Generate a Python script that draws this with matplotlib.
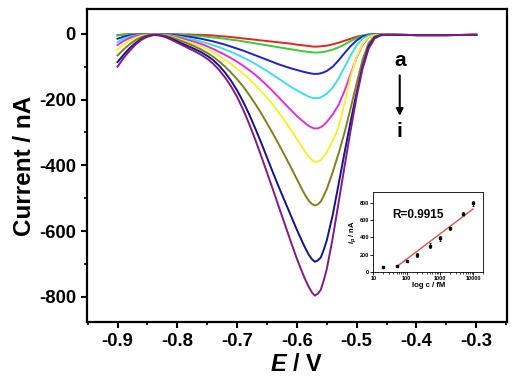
import matplotlib
matplotlib.use("Agg")
import matplotlib.pyplot as plt
from matplotlib.ticker import MultipleLocator, LogLocator, NullFormatter

plt.rcParams['font.family'] = ['Liberation Sans', 'DejaVu Sans']
plt.rcParams['mathtext.fontset'] = 'custom'
plt.rcParams['mathtext.it'] = 'Liberation Sans:bold:italic'
plt.rcParams['mathtext.rm'] = 'Liberation Sans:bold'
plt.rcParams['mathtext.bf'] = 'Liberation Sans:bold'

# ---------------- data ----------------
E = [-0.90, -0.89, -0.88, -0.87, -0.86, -0.85, -0.84, -0.83, -0.82, -0.81,
     -0.80, -0.79, -0.78, -0.77, -0.76, -0.75, -0.74, -0.73, -0.72, -0.71,
     -0.70, -0.69, -0.68, -0.67, -0.66, -0.65, -0.64, -0.63, -0.62, -0.61,
     -0.60, -0.59, -0.585, -0.58, -0.575, -0.57, -0.565, -0.56, -0.555,
     -0.55, -0.54, -0.53, -0.52, -0.51,
     -0.50, -0.49, -0.48, -0.47, -0.46, -0.45, -0.40, -0.35, -0.30]

curve_a = [-4, -2, -1, -1, -1, -1, -1, -1, -1, -1,
           -1, -2, -2, -3, -3, -4, -5, -7, -8, -10,
           -12, -14, -16, -18, -20, -22, -24, -26, -28, -30,
           -33, -35, -36, -37, -38.5, -39, -38.8, -38, -37,
           -36, -32, -27, -21, -15,
           -9, -5, -2, -1, -1, -2, -4, -4, -3]
curve_b = [-5, -3, -2, -1, -1, -1, -1, -1, -1, -2,
           -3, -4, -5, -6, -7, -9, -11, -13, -15, -18,
           -20, -23, -26, -29, -32, -35, -38, -41, -44, -47,
           -50, -53, -54, -55, -56.3, -57, -56.8, -56, -54.8,
           -53, -48, -41, -32, -22,
           -13, -6, -2, -1, -1, -2, -4, -4, -3]
curve_c = [-15, -9, -5, -3, -2, -1, -1, -1, -2, -3,
           -5, -7, -9, -12, -15, -19, -23, -28, -33, -39,
           -45, -51, -58, -65, -72, -79, -86, -93, -99, -105,
           -110, -115, -117.2, -119, -121, -122, -121.6, -120, -117,
           -113, -100, -80, -58, -37,
           -20, -8, -3, -2, -2, -2, -4, -4, -3]
curve_d = [-25, -15, -9, -5, -3, -2, -2, -2, -3, -5,
           -8, -11, -15, -19, -24, -29, -35, -41, -48, -55,
           -63, -72, -81, -91, -102, -113, -125, -137, -149, -161,
           -172, -182, -186.8, -191, -194, -196, -195.4, -193, -188,
           -182, -163, -135, -100, -65,
           -35, -14, -5, -3, -2, -2, -4, -4, -3]
curve_e = [-34, -22, -13, -7, -4, -2, -2, -2, -4, -7,
           -11, -15, -20, -25, -31, -38, -46, -55, -64, -74,
           -85, -97, -110, -124, -140, -157, -175, -194, -213, -232,
           -250, -266, -273.5, -280, -285, -288, -287.2, -284, -277,
           -268, -245, -215, -172, -122,
           -72, -33, -11, -4, -2, -2, -4, -4, -3]
curve_f = [-48, -33, -21, -12, -6, -3, -2, -3, -5, -9,
           -14, -20, -26, -32, -39, -47, -56, -67, -79, -92,
           -106, -121, -137, -155, -174, -194, -216, -240, -265, -292,
           -320, -348, -362, -374, -383.5, -390, -388.5, -384, -373,
           -360, -325, -282, -210, -130,
           -70, -30, -10, -4, -3, -2, -4, -4, -3]
curve_g = [-66, -48, -32, -19, -10, -4, -2, -3, -6, -11,
           -17, -24, -31, -39, -48, -58, -70, -84, -100, -118,
           -138, -160, -185, -212, -241, -272, -304, -337, -371, -406,
           -442, -478, -494, -508, -517, -522, -518.5, -510, -492,
           -472, -420, -362, -298, -225,
           -150, -78, -28, -8, -3, -2, -4, -4, -3]
curve_h = [-86, -64, -44, -28, -15, -7, -3, -4, -8, -15,
           -23, -31, -39, -47, -56, -67, -80, -97, -118, -143,
           -172, -206, -244, -286, -330, -376, -422, -467, -510, -553,
           -596, -636, -655, -672, -685, -693, -689, -680, -656,
           -628, -550, -455, -358, -265,
           -178, -98, -38, -11, -4, -3, -4, -4, -3]
curve_i = [-100, -74, -52, -33, -18, -9, -4, -5, -10, -18,
           -27, -36, -45, -54, -64, -76, -91, -110, -133, -160,
           -192, -230, -273, -320, -370, -422, -474, -527, -580, -633,
           -684, -730, -751, -770, -786, -796, -790, -778, -749,
           -715, -620, -510, -400, -292,
           -190, -105, -45, -14, -5, -3, -4, -4, -3]

curves = [curve_a, curve_b, curve_c, curve_d, curve_e,
          curve_f, curve_g, curve_h, curve_i]
colors = ['#e0261e', '#3ec83c', '#2020d0', '#40dde6', '#e030dc',
          '#f2f232', '#808020', '#14148a', '#821a84']

# inset calibration data
conc = [20, 50, 100, 200, 500, 1000, 2000, 5000, 10000]
ip = [59, 67, 125, 196, 305, 391, 508, 672, 800]
ip_err = [5, 10, 15, 20, 30, 30, 20, 20, 30]
fit_c = [50, 10000]
fit_ip = [59, 733]

xticks = [-0.9, -0.8, -0.7, -0.6, -0.5, -0.4, -0.3]
yticks = [-800, -600, -400, -200, 0]

# ---------------- figure ----------------
fig = plt.figure(figsize=(5.15, 3.81), dpi=100)
ax = fig.add_axes([0.169, 0.155, 0.815, 0.821])

for y, c in zip(curves, colors):
    ax.plot(E, y, color=c, lw=1.4, solid_joinstyle='round')

ax.set_xlim(-0.951, -0.249)
ax.set_ylim(-876, 75)
ax.set_xticks(xticks)
ax.set_xticklabels([f'{v:.1f}' for v in xticks])
ax.set_yticks(yticks)
ax.set_yticklabels([str(v) for v in yticks])
ax.xaxis.set_minor_locator(MultipleLocator(0.05))
ax.yaxis.set_minor_locator(MultipleLocator(100))
ax.tick_params(which='major', direction='out', length=4.5, width=1.5,
               labelsize=13.3, top=False, right=False)
ax.tick_params(which='minor', direction='out', length=2.5, width=1.2,
               top=False, right=False)
for lab in ax.get_xticklabels() + ax.get_yticklabels():
    lab.set_fontweight('bold')
for sp in ax.spines.values():
    sp.set_linewidth(1.6)

ax.set_xlabel(r'$E$ / V', fontsize=17, fontweight='bold', labelpad=2)
ax.set_ylabel('Current / nA', fontsize=17.5, fontweight='bold', labelpad=2)

# a -> i annotation
ax.text(-0.428, -80, 'a', fontsize=15, fontweight='bold', ha='center', va='center')
ax.annotate('', xy=(-0.428, -258), xytext=(-0.428, -118),
            arrowprops=dict(arrowstyle='-|>', color='black', lw=1.5,
                            mutation_scale=10))
ax.text(-0.428, -298, 'i', fontsize=15, fontweight='bold', ha='center', va='center')

# ---------------- inset ----------------
ins = fig.add_axes([0.725, 0.286, 0.213, 0.211])
ins.set_xscale('log')
ins.errorbar(conc, ip, yerr=ip_err, fmt='s', ms=1.8, color='black',
             ecolor='black', elinewidth=0.6, capsize=1.0, capthick=0.6)
ins.plot(fit_c, fit_ip, color='#d9534f', lw=1.0)
ins.set_xlim(10, 20000)
ins.set_ylim(-3, 935)
ins.set_yticks([0, 200, 400, 600, 800])
ins.set_xticks([10, 100, 1000, 10000])
ins.set_xticklabels(['10', '100', '1000', '10000'])
ins.xaxis.set_minor_locator(LogLocator(base=10, subs=range(2, 10)))
ins.xaxis.set_minor_formatter(NullFormatter())
ins.tick_params(which='major', labelsize=4.0, length=2, width=0.6, pad=1)
ins.tick_params(which='minor', length=1.2, width=0.5)
for lab in ins.get_xticklabels() + ins.get_yticklabels():
    lab.set_fontweight('bold')
for sp in ins.spines.values():
    sp.set_linewidth(0.6)
ins.set_xlabel('log c / fM', fontsize=5.6, fontweight='bold', labelpad=0.5)
ins.set_ylabel(r'$i_p$ / nA', fontsize=5.5, fontweight='bold', labelpad=1)
ins.text(0.17, 0.71, 'R=0.9915', transform=ins.transAxes, fontsize=8.5,
         fontweight='bold', ha='left', va='center')

fig.savefig('out.png', dpi=100)
